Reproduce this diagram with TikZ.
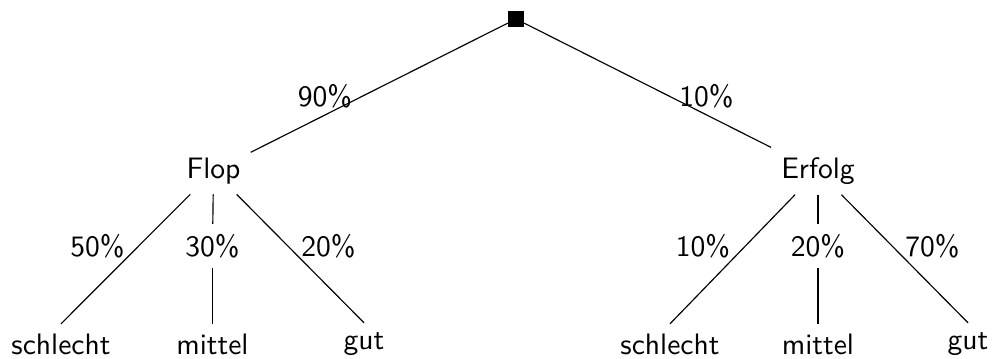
\documentclass[tikz,border=0pt]{standalone}
\begin{document}
\begin{tikzpicture}[x=0.3448pt,y=-0.3448pt,
  every node/.style={font=\sffamily\fontsize{10.2}{12}\selectfont, inner sep=3.33pt},
  rootbox/.style={fill=black, draw=black, minimum size=5.3pt, inner sep=0pt},
  edgeline/.style={line width=0.4pt, black}]
\useasboundingbox (0,0) rectangle (992,358);
% nodes
\node[rootbox] (r) at (516,19) {};
\node (flop) at (213.5,171) {Flop};
\node (erf) at (818,171) {Erfolg};
\node (l90) at (325,96) {90\%};
\node (l10) at (706.5,96) {10\%};
\node (s1) at (61,344.5) {schlecht};
\node (m1) at (212.5,344.5) {mittel};
\node (g1) at (364,344.5) {gut};
\node (s2) at (670,344.5) {schlecht};
\node (m2) at (818,344.5) {mittel};
\node (g2) at (968,344.5) {gut};
\node (p50) at (97.5,246) {50\%};
\node (p30) at (212.5,246) {30\%};
\node (p20) at (328.5,246) {20\%};
\node (q10) at (703,246) {10\%};
\node (q20) at (818,246) {20\%};
\node (q70) at (932.5,246) {70\%};
% connectors
\draw[edgeline] (r) -- (flop);
\draw[edgeline] (r) -- (erf);
\draw[edgeline] (flop) -- (s1.north);
\draw[edgeline] (flop) -- (p30);
\draw[edgeline] (p30) -- (m1);
\draw[edgeline] (flop) -- (g1.north);
\draw[edgeline] (erf) -- (s2.north);
\draw[edgeline] (erf) -- (q20);
\draw[edgeline] (q20) -- (m2);
\draw[edgeline] (erf) -- (g2.north);
\end{tikzpicture}
\end{document}
